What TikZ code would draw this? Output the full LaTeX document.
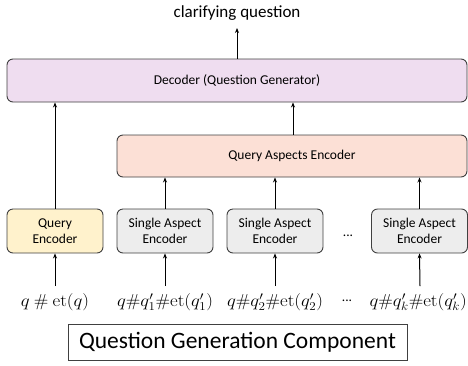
\documentclass[tikz,border=0pt]{standalone}
\usepackage[no-math]{fontspec}
\setmainfont{Carlito}
\usetikzlibrary{arrows.meta}
\definecolor{decfill}{HTML}{EFDDF0}
\definecolor{qaefill}{HTML}{FCE0D6}
\definecolor{qefill}{HTML}{FFF2CC}
\definecolor{saefill}{HTML}{EDEDED}
\definecolor{bordercol}{HTML}{404040}
\newcommand{\mylab}[1]{\scalebox{1.09}[1]{$#1$}}
\begin{document}
\begin{tikzpicture}[x=1pt,y=-1pt,
  box/.style={draw=bordercol,line width=0.9pt,rounded corners=6pt,inner sep=0pt,align=center,font=\fontsize{13.5}{16}\selectfont},
  arr/.style={-{Stealth[length=5pt,width=4pt]},line width=1pt,black},
  dots/.style={inner sep=0pt,font=\fontsize{13.5}{16}\selectfont},
  lab/.style={inner sep=0pt,font=\fontsize{17}{19}\selectfont}]
\useasboundingbox (0,0) rectangle (468,365);
% Decoder
\node[box,fill=decfill,minimum width=460pt,minimum height=43pt] (dec) at (237,80.5) {Decoder (Question Generator)};
\node[inner sep=0pt,font=\fontsize{17}{19}\selectfont] (cq) at (237,13) {clarifying question};
\coordinate (cqa) at (237,28);
\draw[arr] (dec.north) -- (cqa);
% QAE
\node[box,fill=qaefill,minimum width=350pt,minimum height=42pt] (qae) at (292,156) {Query Aspects Encoder};
% bottom row
\node[box,fill=qefill,minimum width=96pt,minimum height=44pt] (qe) at (55,231) {Query\\Encoder};
\node[box,fill=saefill,minimum width=96pt,minimum height=44pt] (s1) at (165,231) {Single Aspect\\Encoder};
\node[box,fill=saefill,minimum width=96pt,minimum height=44pt] (s2) at (275,231) {Single Aspect\\Encoder};
\node[box,fill=saefill,minimum width=96pt,minimum height=44pt] (s3) at (419.5,231) {Single Aspect\\Encoder};
\node[dots] (dots1) at (348,236) {...};
% inputs
\node[lab] (i0) at (55,302) {\mylab{q\ \#\ \mathrm{et}(q)}};
\node[lab] (i1) at (165,302) {\mylab{q\#q'_1\#\mathrm{et}(q'_1)}};
\node[lab] (i2) at (275,302) {\mylab{q\#q'_2\#\mathrm{et}(q'_2)}};
\node[lab,anchor=east] (i3) at (467,302) {\mylab{q\#q'_k\#\mathrm{et}(q'_k)}};
\node[dots] (dots2) at (347,301) {...};
\coordinate (a0) at (55,286);
\coordinate (a1) at (165,286);
\coordinate (a2) at (275,286);
\coordinate (a3) at (420,286);
\draw[arr] (a0) -- (qe.south);
\draw[arr] (a1) -- (s1.south);
\draw[arr] (a2) -- (s2.south);
\draw[arr] (a3) -- (s3.south);
\draw[arr] (s1.north) -- (s1.north |- qae.south);
\draw[arr] (s2.north) -- (s2.north |- qae.south);
\draw[arr] (s3.north) -- (s3.north |- qae.south);
\draw[arr] (qe.north) -- (qe.north |- dec.south);
\draw[arr] (qae.north -| 293,0) -- (293,0 |- dec.south);
% component label
\node[draw=bordercol,line width=0.8pt,minimum width=339pt,minimum height=36pt,inner sep=0pt,font=\fontsize{23.5}{27}\selectfont] (comp) at (237.5,342) {Question Generation Component};
\end{tikzpicture}
\end{document}
